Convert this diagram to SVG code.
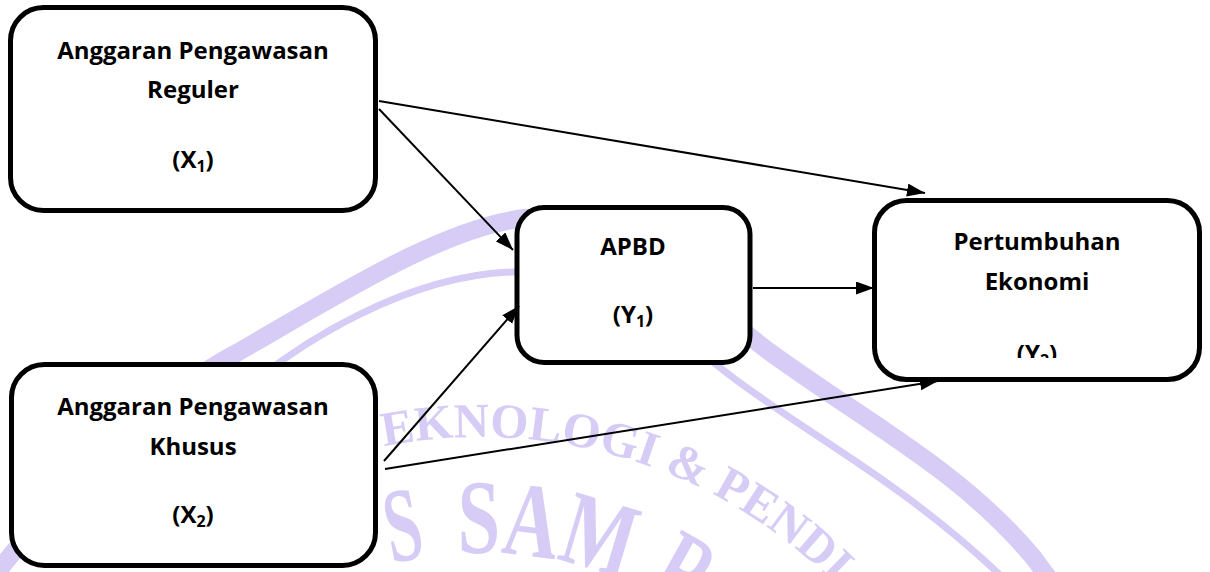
<svg xmlns="http://www.w3.org/2000/svg" width="1210" height="572" viewBox="0 0 1210 572">
  <style>
    .box { fill: #ffffff; stroke: #000000; stroke-width: 5; }
    .lbl { font-family: "Open Sans", Lato, "DejaVu Sans", sans-serif; font-weight: bold; font-size: 24px; fill: #000000; text-anchor: middle; }
    .sub { font-size: 16px; }
    .conn { stroke: #000000; stroke-width: 2; fill: none; marker-end: url(#arrow); }
    .band { fill: none; stroke: #d6ccf6; stroke-linecap: butt; }
    .wm { font-family: "Liberation Serif", "DejaVu Serif", serif; font-weight: bold; fill: #d6ccf6; }
  </style>
  <defs>
    <marker id="arrow" markerUnits="userSpaceOnUse" markerWidth="20" markerHeight="14" refX="18" refY="6.5" orient="auto">
      <path d="M0,0 L18,6.5 L0,13 Z" fill="#000000"/>
    </marker>
    <path id="ringOuter" d="M -18,936 A 499 499 0 0 1 980,936"/>
    <path id="ringInner" d="M 98,936 A 383 383 0 0 1 864,936"/>
    <clipPath id="clipY2">
      <rect x="870" y="195" width="340" height="163"/>
    </clipPath>
  </defs>

  <rect x="0" y="0" width="1210" height="572" fill="#ffffff"/>

  <g id="watermark">
    <path class="band" stroke-width="18" d="M -5,575 C 70,480 150,400 233,355 C 330,300 440,228 525,218 C 600,212 690,290 767,350 C 870,425 960,470 1033,557 L 1050,580"/>
    <path class="band" stroke-width="7" d="M 200,430 C 300,330 420,275 513,272 C 600,268 660,320 727,373 C 800,430 900,480 1000,575"/>
    <text class="wm" font-size="49"><textPath href="#ringOuter" startOffset="686">EKNOLOGI &amp; PENDI</textPath></text>
    <text class="wm" font-size="106"><textPath href="#ringInner" startOffset="511" textLength="36" lengthAdjust="spacingAndGlyphs">S</textPath></text>
    <text class="wm" font-size="106"><textPath href="#ringInner" startOffset="578" textLength="170" lengthAdjust="spacingAndGlyphs">SAM</textPath></text>
    <text class="wm" font-size="106"><textPath href="#ringInner" startOffset="772" textLength="50" lengthAdjust="spacingAndGlyphs">R</textPath></text>
  </g>

  <g id="node-x1">
    <rect class="box" x="10.5" y="7.5" width="365" height="203" rx="33" ry="33"/>
    <text class="lbl" x="193" y="59">Anggaran Pengawasan</text>
    <text class="lbl" x="193" y="98">Reguler</text>
    <text class="lbl" x="193" y="168">(X<tspan class="sub" dy="4">1</tspan><tspan dy="-4">)</tspan></text>
  </g>

  <g id="node-x2">
    <rect class="box" x="11.5" y="364.5" width="364" height="201" rx="33" ry="33"/>
    <text class="lbl" x="193" y="415">Anggaran Pengawasan</text>
    <text class="lbl" x="193" y="455">Khusus</text>
    <text class="lbl" x="193" y="523">(X<tspan class="sub" dy="4">2</tspan><tspan dy="-4">)</tspan></text>
  </g>

  <g id="node-y1">
    <rect class="box" x="517" y="207.5" width="233" height="155" rx="27" ry="27"/>
    <text class="lbl" x="633" y="255">APBD</text>
    <text class="lbl" x="633" y="323">(Y<tspan class="sub" dy="4">1</tspan><tspan dy="-4">)</tspan></text>
  </g>

  <g id="node-y2">
    <rect class="box" x="874.5" y="200.5" width="325" height="179" rx="32" ry="32"/>
    <text class="lbl" x="1037" y="250">Pertumbuhan</text>
    <text class="lbl" x="1037" y="290">Ekonomi</text>
    <text class="lbl" x="1037" y="362" clip-path="url(#clipY2)">(Y<tspan class="sub" dy="4">2</tspan><tspan dy="-4">)</tspan></text>
  </g>

  <g id="connectors">
    <line class="conn" x1="379" y1="101" x2="925" y2="193"/>
    <line class="conn" x1="379" y1="109" x2="513" y2="250"/>
    <line class="conn" x1="384" y1="461" x2="519" y2="306"/>
    <line class="conn" x1="385" y1="469" x2="938" y2="381"/>
    <line class="conn" x1="753" y1="288" x2="874" y2="288"/>
  </g>
</svg>
